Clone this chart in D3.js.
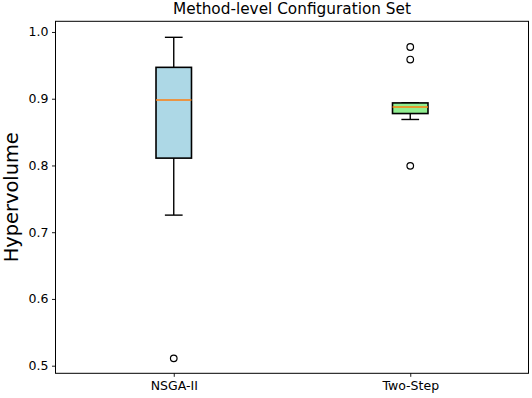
<!DOCTYPE html>
<html>
<head>
<meta charset="utf-8">
<script src="https://cdn.jsdelivr.net/npm/d3@7"></script>
<style>
  body { margin: 0; background: #fff; }
  text { font-family: "DejaVu Sans", sans-serif; fill: #000; }
</style>
</head>
<body>
<div id="chart"></div>
<script>
// box statistics
const categories = ['NSGA-II', 'Two-Step'];
const whiskerLow = [0.7256, 0.8689];
const q1 = [0.811, 0.8778];
const median = [0.898, 0.8877];
const q3 = [0.947, 0.8937];
const whiskerHigh = [0.992, 0.894];
const outliers = [[0.511], [0.9775, 0.9587, 0.7994]];
const boxColors = ['#add8e6', '#90ee90'];
const yTicks = [0.5, 0.6, 0.7, 0.8, 0.9, 1.0];

const width = 532;
const height = 398;
const margin = { top: 21.3, right: 3.5, bottom: 24.7, left: 55.5 };

const data = categories.map((c, i) => ({
  name: c, pos: i + 1,
  lo: whiskerLow[i], q1: q1[i], med: median[i], q3: q3[i], hi: whiskerHigh[i],
  fliers: outliers[i], fill: boxColors[i]
}));

const svg = d3.select('#chart')
  .append('svg')
  .attr('width', width)
  .attr('height', height);

const xScale = d3.scaleLinear()
  .domain([0.5, 2.5])
  .range([margin.left, width - margin.right]);

const yScale = d3.scaleLinear()
  .domain([0.4886, 1.016])
  .range([height - margin.bottom, margin.top]);

const boxW = xScale(1.15) - xScale(1);
const capW = boxW / 2;

// axes
const yAxis = svg.append('g')
  .attr('transform', `translate(${margin.left}, 0)`)
  .call(d3.axisLeft(yScale).tickValues(yTicks).tickFormat(d3.format('.1f')).tickSize(3.5).tickPadding(3.5));

const xAxis = svg.append('g')
  .attr('transform', `translate(0, ${height - margin.bottom})`)
  .call(d3.axisBottom(xScale).tickValues(data.map(d => d.pos)).tickFormat((d, i) => categories[i]).tickSize(3.5).tickPadding(4));

[yAxis, xAxis].forEach(g => {
  g.select('.domain').remove();
  g.selectAll('.tick line').attr('stroke', '#000').attr('stroke-width', 0.9);
  g.selectAll('.tick text').style('font-size', '12.5px').attr('fill', '#000');
});

// frame
svg.append('rect')
  .attr('x', margin.left)
  .attr('y', margin.top)
  .attr('width', width - margin.right - margin.left)
  .attr('height', height - margin.bottom - margin.top)
  .attr('fill', 'none')
  .attr('stroke', '#000')
  .attr('stroke-width', 1);

const boxes = svg.selectAll('.box')
  .data(data)
  .enter()
  .append('g')
  .attr('class', 'box');

// whiskers
boxes.append('line')
  .attr('x1', d => xScale(d.pos)).attr('x2', d => xScale(d.pos))
  .attr('y1', d => yScale(d.q3)).attr('y2', d => yScale(d.hi))
  .attr('stroke', '#000').attr('stroke-width', 1.4);
boxes.append('line')
  .attr('x1', d => xScale(d.pos)).attr('x2', d => xScale(d.pos))
  .attr('y1', d => yScale(d.q1)).attr('y2', d => yScale(d.lo))
  .attr('stroke', '#000').attr('stroke-width', 1.4);

// caps
['hi', 'lo'].forEach(k => {
  boxes.append('line')
    .attr('x1', d => xScale(d.pos) - capW / 2).attr('x2', d => xScale(d.pos) + capW / 2)
    .attr('y1', d => yScale(d[k])).attr('y2', d => yScale(d[k]))
    .attr('stroke', '#000').attr('stroke-width', 1.4);
});

// boxes
boxes.append('rect')
  .attr('x', d => xScale(d.pos) - boxW / 2)
  .attr('y', d => yScale(d.q3))
  .attr('width', boxW)
  .attr('height', d => yScale(d.q1) - yScale(d.q3))
  .attr('fill', d => d.fill)
  .attr('stroke', '#000')
  .attr('stroke-width', 1.6);

// medians
boxes.append('line')
  .attr('x1', d => xScale(d.pos) - boxW / 2).attr('x2', d => xScale(d.pos) + boxW / 2)
  .attr('y1', d => yScale(d.med)).attr('y2', d => yScale(d.med))
  .attr('stroke', '#ff7f0e').attr('stroke-width', 1.6);

// fliers
boxes.selectAll('.flier')
  .data(d => d.fliers.map(v => ({ pos: d.pos, v: v })))
  .enter()
  .append('circle')
  .attr('class', 'flier')
  .attr('cx', d => xScale(d.pos))
  .attr('cy', d => yScale(d.v))
  .attr('r', 3.3)
  .attr('fill', 'none')
  .attr('stroke', '#000')
  .attr('stroke-width', 1.2);

// title and label
svg.append('text')
  .attr('x', (margin.left + width - margin.right) / 2)
  .attr('y', 13.5)
  .style('text-anchor', 'middle')
  .style('font-size', '15.3px')
  .text('Method-level Configuration Set');

svg.append('text')
  .attr('transform', 'rotate(-90)')
  .attr('x', -(margin.top + height - margin.bottom) / 2)
  .attr('y', 17.5)
  .style('text-anchor', 'middle')
  .style('font-size', '19.4px')
  .text('Hypervolume');
</script>
</body>
</html>
